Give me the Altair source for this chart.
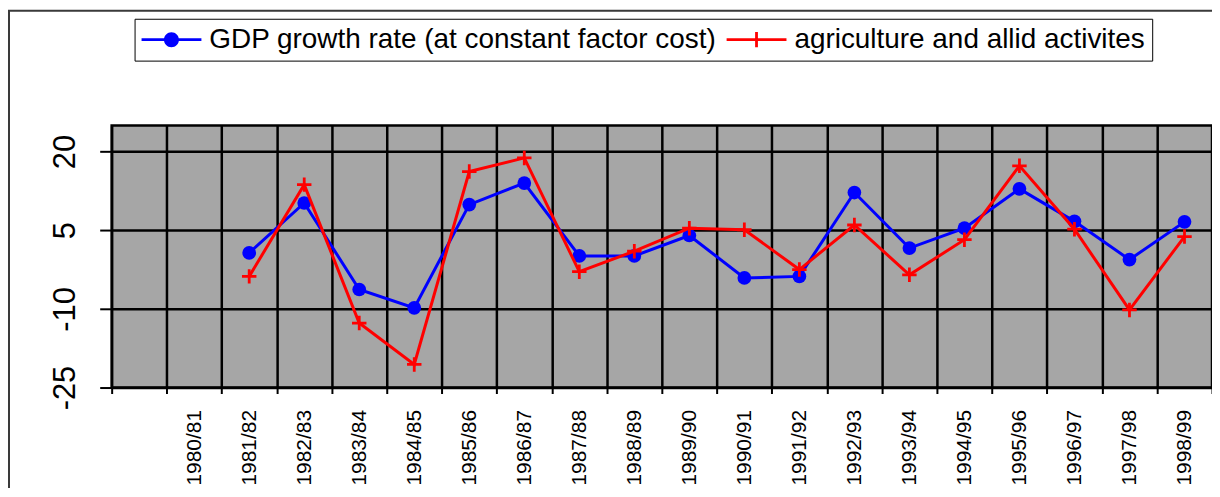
import altair as alt
import pandas as pd

# ---- data ----
YEARS = ["1980/81", "1981/82", "1982/83", "1983/84", "1984/85", "1985/86",
         "1986/87", "1987/88", "1988/89", "1989/90", "1990/91", "1991/92",
         "1992/93", "1993/94", "1994/95", "1995/96", "1996/97", "1997/98",
         "1998/99"]
CATEGORIES = [" "] + YEARS          # the axis has an empty first slot
DATA_YEARS = YEARS[1:]              # 1980/81 carries no value
GDP = [0.7, 10.2, -6.3, -9.8, 9.9, 14.0, 0.1, 0.1, 4.0, -4.1, -3.8,
       12.2, 1.6, 5.4, 12.9, 6.7, -0.6, 6.6]
AGRI = [-3.8, 13.7, -12.7, -20.6, 16.2, 18.8, -2.9, 1.0, 5.4, 5.1, -2.5,
        6.0, -3.5, 3.2, 17.3, 5.2, -10.2, 3.8]
SERIES = ["GDP growth rate (at constant factor cost)",
          "agriculture and allid activites"]
COLORS = ["#0000ff", "#ff0000"]
Y_TICKS = [20, 5, -10, -25]
Y_DOMAIN = [-25, 25]

FONT = "Liberation Sans, Arial, sans-serif"

df = pd.DataFrame({
    "year": DATA_YEARS + DATA_YEARS,
    "series": [SERIES[0]] * len(GDP) + [SERIES[1]] * len(AGRI),
    "value": GDP + AGRI,
})

x_enc = alt.X(
    "year:N",
    scale=alt.Scale(type="band", domain=CATEGORIES, paddingInner=0, paddingOuter=0),
    axis=alt.Axis(
        title=None, domain=False, grid=True, gridColor="black", gridWidth=2.5,
        tickBand="extent", ticks=True, tickColor="black", tickWidth=2, tickSize=6,
        labelAngle=270, labelAlign="right", labelBaseline="middle",
        labelFont=FONT, labelFontSize=21, labelColor="black", labelPadding=16,
        labelOverlap=False,
    ),
)
y_enc = alt.Y(
    "value:Q",
    scale=alt.Scale(domain=Y_DOMAIN, nice=False, zero=False),
    axis=alt.Axis(
        title=None, domain=False, values=Y_TICKS, grid=True, gridColor="black",
        gridWidth=2.5, tickColor="black", tickWidth=2, tickSize=12,
        labelAngle=270, labelAlign="center", labelBaseline="alphabetic",
        labelFont=FONT, labelFontSize=31, labelColor="black", labelPadding=25,
        labelExpr="'' + datum.value",
    ),
)

base = alt.Chart(df)

gdp_line = base.transform_filter(alt.datum.series == SERIES[0]).mark_line(
    color=COLORS[0], strokeWidth=3).encode(x=x_enc, y=y_enc)
gdp_pts = base.transform_filter(alt.datum.series == SERIES[0]).mark_circle(
    color=COLORS[0], size=190, opacity=1).encode(x=x_enc, y=y_enc)
agri_line = base.transform_filter(alt.datum.series == SERIES[1]).mark_line(
    color=COLORS[1], strokeWidth=3).encode(x=x_enc, y=y_enc)
agri_pts = base.transform_filter(alt.datum.series == SERIES[1]).mark_point(
    shape="M-1,0H1M0,-1V1", filled=False, color=COLORS[1], strokeWidth=2.8,
    size=210, opacity=1).encode(x=x_enc, y=y_enc)

# legend symbols: line stroke + marker, as filled paths (unit = 14 px,
# symbol centre sits 14 px into the entry, so the path runs -1 .. 3.29)
LEG_SHAPES = [
    "M-1,-0.1H3.29V0.1H-1Z "
    "M0.607,0A0.536,0.536 0 1,1 1.679,0A0.536,0.536 0 1,1 0.607,0Z",
    "M-1,-0.1H3.29V0.1H-1Z M1.043,-0.55H1.243V0.55H1.043Z",
]
legend = alt.Legend(
    orient="none", legendX=23, legendY=-107, direction="horizontal", title=None,
    symbolSize=784, symbolStrokeWidth=0, labelFont=FONT, labelFontSize=28,
    labelColor="black", labelLimit=2000, labelOffset=40, columnPadding=10,
    padding=7, strokeColor="black", fillColor="white",
)
legend_layer = base.transform_filter("false").mark_point(
    filled=True, opacity=1).encode(
    x=x_enc, y=y_enc,
    color=alt.Color("series:N", scale=alt.Scale(domain=SERIES, range=COLORS), legend=legend),
    shape=alt.Shape("series:N", scale=alt.Scale(domain=SERIES, range=LEG_SHAPES), legend=legend),
)

# outer chart frame (decoration)
frame = alt.Chart(alt.Data(values=[{"k": 1}])).mark_rect(
    filled=False, stroke="#3a3a3a", strokeWidth=2, clip=False).encode(
    x=alt.value(-103), x2=alt.value(1300), y=alt.value(-115), y2=alt.value(366))

chart = alt.layer(frame, gdp_line, gdp_pts, agri_line, agri_pts, legend_layer).properties(
    width=1104, height=263,
    autosize=alt.AutoSizeParams(type="none"),
    padding={"left": 104, "top": 117, "right": 0, "bottom": 100},
    background="white",
).configure(
    font=FONT,
    view=alt.ViewConfig(fill="#a6a6a6", stroke="black", strokeWidth=2.5),
)

chart.save("out.html", embed_options={"renderer": "svg", "actions": False})
